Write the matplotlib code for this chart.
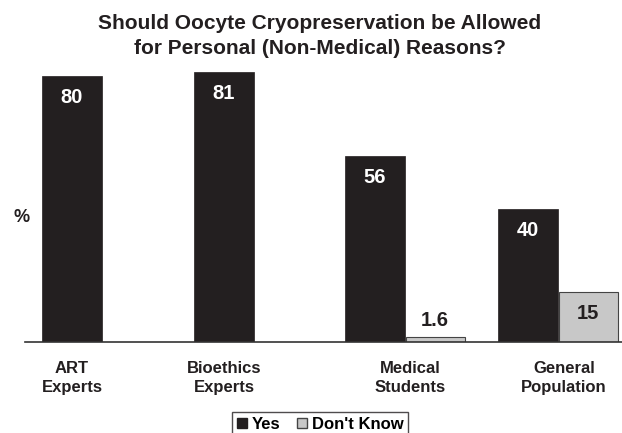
import matplotlib
matplotlib.use("Agg")
import matplotlib.pyplot as plt
from matplotlib.patches import Patch

plt.rcParams['font.family'] = ['Liberation Sans', 'DejaVu Sans']

categories = ["ART\nExperts", "Bioethics\nExperts", "Medical\nStudents", "General\nPopulation"]
yes_vals = [80, 81, 56, 40]
dk_vals = [None, None, 1.6, 15]
yes_labels = ["80", "81", "56", "40"]
dk_labels = [None, None, "1.6", "15"]
title = "Should Oocyte Cryopreservation be Allowed\nfor Personal (Non-Medical) Reasons?"

# layout (pixel-like x positions)
yes_x = [72, 224, 375, 528]
label_x = [72, 224, 410, 564]
bar_w = 60

W, H = 622, 433
fig = plt.figure(figsize=(W / 100, H / 100), dpi=100)
base_px = 342
top_px = 60
ax = fig.add_axes([25 / W, (H - base_px) / H, 1 - 25 / W, (base_px - top_px) / H])
ax.set_xlim(25, 622)
ax.set_ylim(0, (base_px - top_px) / 3.33)

black = "#231f20"
gray = "#c8c8c8"
vfs = 14.5

for i, v in enumerate(yes_vals):
    ax.bar(yes_x[i], v, width=bar_w, color=black, edgecolor=black, linewidth=0.5)
    ax.text(yes_x[i], v - 3.6, yes_labels[i], ha="center", va="top", color="white",
            fontsize=vfs, fontweight="bold")
    if dk_vals[i] is not None:
        d = dk_vals[i]
        ax.bar(yes_x[i] + bar_w, d, width=bar_w - 1, color=gray, edgecolor="#444444", linewidth=0.8)
        if d > 8:
            ax.text(yes_x[i] + bar_w, d - 3.6, dk_labels[i], ha="center", va="top",
                    color=black, fontsize=vfs, fontweight="bold")
        else:
            ax.text(yes_x[i] + bar_w, d + 2.1, dk_labels[i], ha="center", va="bottom",
                    color=black, fontsize=vfs, fontweight="bold")

for s in ["top", "right", "left"]:
    ax.spines[s].set_visible(False)
ax.spines["bottom"].set_color("#333333")
ax.spines["bottom"].set_linewidth(1.2)
ax.set_yticks([])
ax.set_xticks(label_x)
ax.set_xticklabels(categories, fontsize=12, fontweight="bold", color=black, linespacing=1.3)
ax.tick_params(axis="x", length=0, pad=14)

fig.text(22 / W, 1 - 217 / H, "%", ha="center", va="center", fontsize=13, fontweight="bold", color=black)
fig.text(320 / W, 1 - 36 / H, title, ha="center", va="center", fontsize=15, fontweight="bold",
         color=black, linespacing=1.35)

handles = [Patch(facecolor=black, edgecolor=black, label="Yes"),
           Patch(facecolor=gray, edgecolor="#444444", label="Don't Know")]
leg = fig.legend(handles=handles, loc="upper center", bbox_to_anchor=(320 / W, 1 - 412 / H), ncol=2,
                 frameon=True, fancybox=False, edgecolor=black, handlelength=0.6, handleheight=0.6,
                 handletextpad=0.3, columnspacing=1.0, borderpad=0.3, borderaxespad=0,
                 prop={"size": 12, "weight": "bold"})
leg.get_frame().set_linewidth(1.0)

fig.savefig("out.png", dpi=100)
